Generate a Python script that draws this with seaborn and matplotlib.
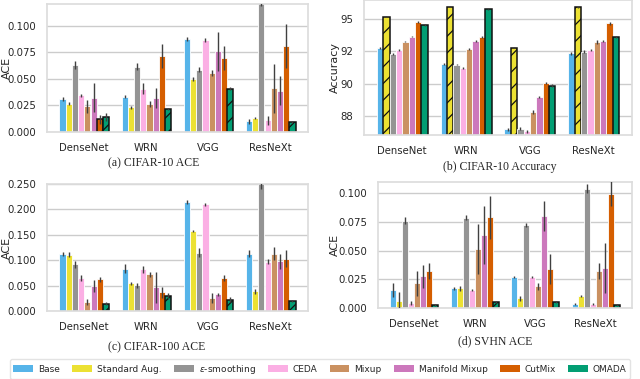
import numpy as np
import pandas as pd
import matplotlib
matplotlib.use("Agg")
import matplotlib.pyplot as plt
import seaborn as sns
from matplotlib.ticker import FormatStrFormatter, FixedLocator
from matplotlib.patches import Patch

# ---- data ----
models = ["DenseNet", "WRN", "VGG", "ResNeXt"]
methods = ["Base", "Standard Aug.", r"$\varepsilon$-smoothing", "CEDA",
           "Mixup", "Manifold Mixup", "CutMix", "OMADA"]
colors = ["#56B4E9", "#ECE133", "#949494", "#FBAFE4",
          "#CA9161", "#CC78BC", "#D55E00", "#029E73"]

# one row per method, one column per model
c10_ace = [
    [0.0311, 0.0333, 0.0874, 0.0100],
    [0.0267, 0.0233, 0.0497, 0.0132],
    [0.0630, 0.0616, 0.0588, 0.1250],
    [0.0346, 0.0409, 0.0865, 0.0110],
    [0.0242, 0.0261, 0.0557, 0.0410],
    [0.0324, 0.0320, 0.0758, 0.0390],
    [0.0120, 0.0717, 0.0695, 0.0808],
    [0.0142, 0.0214, 0.0409, 0.0091],
]
c10_ace_err = [
    [0.002, 0.0015, 0.002, 0.002],
    [0.0015, 0.0012, 0.002, 0.0012],
    [0.004, 0.003, 0.002, 0.006],
    [0.0015, 0.005, 0.002, 0.004],
    [0.006, 0.003, 0.003, 0.023],
    [0.014, 0.009, 0.018, 0.014],
    [0.004, 0.011, 0.011, 0.021],
    [0.004, 0.001, 0.001, 0.001],
]
c10_acc = [
    [92.75, 91.53, 86.44, 92.36],
    [95.20, 95.98, 92.80, 95.93],
    [92.31, 91.48, 86.49, 92.49],
    [92.62, 91.20, 86.28, 92.62],
    [93.27, 92.70, 87.78, 93.24],
    [93.66, 93.34, 88.95, 93.32],
    [94.77, 93.60, 90.03, 94.69],
    [94.56, 95.78, 89.85, 93.60],
]
c10_acc_err = [
    [0.06, 0.08, 0.10, 0.10],
    [0.05, 0.03, 0.04, 0.04],
    [0.08, 0.05, 0.12, 0.12],
    [0.10, 0.10, 0.10, 0.05],
    [0.06, 0.06, 0.15, 0.15],
    [0.07, 0.08, 0.08, 0.06],
    [0.07, 0.08, 0.08, 0.10],
    [0.05, 0.02, 0.09, 0.08],
]
c100_ace = [
    [0.1130, 0.0836, 0.2138, 0.1130],
    [0.1105, 0.0546, 0.1570, 0.0388],
    [0.0920, 0.0507, 0.1150, 0.2600],
    [0.0650, 0.0822, 0.2105, 0.0967],
    [0.0178, 0.0724, 0.0257, 0.1130],
    [0.0487, 0.0467, 0.0330, 0.0980],
    [0.0625, 0.0368, 0.0658, 0.1030],
    [0.0145, 0.0290, 0.0224, 0.0197],
]
c100_ace_err = [
    [0.004, 0.009, 0.004, 0.007],
    [0.005, 0.003, 0.002, 0.005],
    [0.007, 0.005, 0.009, 0.020],
    [0.006, 0.007, 0.003, 0.005],
    [0.006, 0.005, 0.009, 0.012],
    [0.012, 0.030, 0.003, 0.015],
    [0.005, 0.011, 0.006, 0.017],
    [0.003, 0.006, 0.005, 0.002],
]
svhn_ace = [
    [0.0157, 0.0171, 0.0272, 0.0035],
    [0.0058, 0.0171, 0.0084, 0.0107],
    [0.0762, 0.0788, 0.0725, 0.1043],
    [0.0043, 0.0157, 0.0270, 0.0035],
    [0.0214, 0.0516, 0.0191, 0.0322],
    [0.0278, 0.0638, 0.0806, 0.0348],
    [0.0319, 0.0791, 0.0339, 0.0997],
    [0.0029, 0.0055, 0.0052, 0.0026],
]
svhn_ace_err = [
    [0.006, 0.001, 0.001, 0.001],
    [0.008, 0.002, 0.002, 0.001],
    [0.003, 0.002, 0.002, 0.004],
    [0.002, 0.001, 0.001, 0.001],
    [0.011, 0.022, 0.003, 0.007],
    [0.010, 0.025, 0.013, 0.022],
    [0.007, 0.019, 0.013, 0.011],
    [0.001, 0.001, 0.001, 0.001],
]

# bars drawn hatched (best result) as (method index, model index)
c10_ace_hatch = [(6, 0), (7, 0), (7, 1), (7, 2), (7, 3)]
c10_acc_hatch = [(1, 0), (1, 1), (1, 2), (1, 3)]
c100_ace_hatch = [(7, 0), (7, 1), (7, 2), (7, 3)]
svhn_ace_hatch = [(7, 0), (7, 1), (7, 2), (7, 3)]

sns.set_theme(style="whitegrid")
plt.rcParams["hatch.linewidth"] = 0.9

fig = plt.figure(figsize=(6.4, 3.79), dpi=100)
W, H = 640, 379


def add_ax(l, r, t, b):
    return fig.add_axes([l / W, 1 - b / H, (r - l) / W, (b - t) / H])


def panel(ax, vals, errs, hatched, ylim, ticks, fmt, ylabel, label_x):
    df = pd.DataFrame([(m, meth, vals[i][j])
                       for i, meth in enumerate(methods)
                       for j, m in enumerate(models)],
                      columns=["model", "method", "value"])
    sns.barplot(data=df, x="model", y="value", hue="method",
                order=models, hue_order=methods, palette=colors,
                saturation=1, errorbar=None, legend=False, ax=ax,
                linewidth=0.6, edgecolor="white")
    bar_sets = list(ax.containers)[:len(methods)]
    for i, cont in enumerate(bar_sets):
        for j, bar in enumerate(cont):
            xc = bar.get_x() + bar.get_width() / 2
            ax.errorbar(xc, vals[i][j], yerr=errs[i][j], color="#404040",
                        lw=1.0, capsize=0, zorder=5)
            if (i, j) in hatched:
                bar.set_hatch("//")
                bar.set_edgecolor("#111111")
                bar.set_linewidth(1.1)
            elif i == 7:
                bar.set_edgecolor("#111111")
                bar.set_linewidth(1.1)
    ax.set_xlim(-0.6, 3.6)
    ax.set_ylim(*ylim)
    ax.yaxis.set_major_locator(FixedLocator(ticks))
    ax.yaxis.set_major_formatter(FormatStrFormatter(fmt))
    ax.set_xlabel("")
    ax.set_ylabel(ylabel, fontsize=8)
    ax.yaxis.set_label_coords(label_x, 0.5)
    ax.tick_params(axis="both", labelsize=7.3, pad=2)
    for s in ax.spines.values():
        s.set_color("#dddddd")


ax_a = add_ax(47, 308, 4, 132)
panel(ax_a, c10_ace, c10_ace_err, c10_ace_hatch, (0, 0.1205),
      [0, 0.025, 0.05, 0.075, 0.1], "%.3f", "ACE", -0.135)

ax_b = add_ax(364, 632, 0, 135)
panel(ax_b, c10_acc, c10_acc_err, c10_acc_hatch, (86.0, 96.5),
      [87.5, 90, 92.5, 95], "%.0f", "Accuracy", -0.09)

ax_c = add_ax(47, 308, 184, 311)
panel(ax_c, c100_ace, c100_ace_err, c100_ace_hatch, (0, 0.25),
      [0, 0.05, 0.1, 0.15, 0.2, 0.25], "%.3f", "ACE", -0.135)

ax_d = add_ax(378, 632, 182, 308)
panel(ax_d, svhn_ace, svhn_ace_err, svhn_ace_hatch, (0, 0.11),
      [0, 0.025, 0.05, 0.075, 0.1], "%.3f", "ACE", -0.15)

serif = ["Liberation Serif", "DejaVu Serif"]
fig.text(154 / W, 1 - 163 / H, "(a) CIFAR-10 ACE", ha="center", va="center",
         family=serif, fontsize=8.5)
fig.text(500 / W, 1 - 167 / H, "(b) CIFAR-10 Accuracy", ha="center", va="center",
         family=serif, fontsize=8.5)
fig.text(157 / W, 1 - 347 / H, "(c) CIFAR-100 ACE", ha="center", va="center",
         family=serif, fontsize=8.5)
fig.text(495 / W, 1 - 341 / H, "(d) SVHN ACE", ha="center", va="center",
         family=serif, fontsize=8.5)

handles = [Patch(facecolor=c, edgecolor="none") for c in colors]
fig.legend(handles, methods, loc="center", bbox_to_anchor=(0.5, 1 - 369 / H),
           ncol=8, fontsize=6.5, frameon=True, handlelength=2.2, handleheight=0.75,
           columnspacing=1.35, handletextpad=0.55, borderpad=0.4,
           edgecolor="#dddddd", fancybox=True)

fig.savefig("out.png", dpi=100)
